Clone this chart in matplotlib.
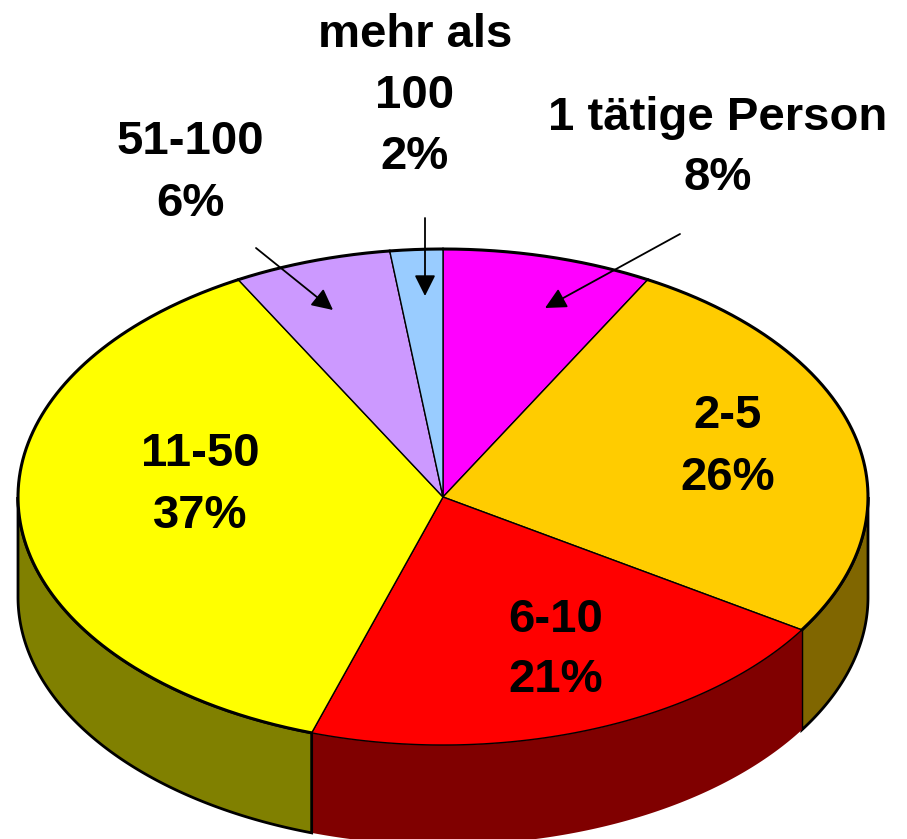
import numpy as np
import matplotlib.pyplot as plt
from matplotlib.patches import Polygon

plt.rcParams['font.family'] = ['Liberation Sans', 'DejaVu Sans']

labels = ['1 tätige Person', '2-5', '6-10', '11-50', '51-100', 'mehr als\n100']
shares = [8, 26, 21, 37, 6, 2]
top_colors = ['#FF00FF', '#FFCC00', '#FF0000', '#FFFF00', '#CC99FF', '#99CCFF']
side_colors = ['#800080', '#806600', '#800000', '#808000', '#664C80', '#4C6680']
outlined = [True, True, False, True, True, True]

# label placement (pixel coords of the reference), inside or with arrow
label_pos = [(718, 148), (728, 447), (556, 650), (200, 485), (190, 173), (415, 96)]
arrow_tip = [(545, 308), None, None, None, (333, 310), (425, 296)]
arrow_tail = [(680, 234), None, None, None, (256, 248), (425, 218)]

cx, cy = 443, 497
rx, ry = 425, 248
depth = 100


def ell(t):
    t = np.radians(t)
    return cx + rx * np.sin(t), cy - ry * np.cos(t)


fig = plt.figure(figsize=(9.07, 8.39), dpi=100)
ax = fig.add_axes([0, 0, 1, 1])
ax.set_xlim(0, 907)
ax.set_ylim(839, 0)
ax.axis('off')

bounds = np.concatenate([[0], np.cumsum(shares)]) * 3.6

# side walls (front half only)
for i in range(len(shares)):
    a0, a1 = max(bounds[i], 90), min(bounds[i + 1], 270)
    if a1 <= a0:
        continue
    t = np.linspace(a0, a1, 200)
    x, y = ell(t)
    pts = np.column_stack([np.concatenate([x, x[::-1]]),
                           np.concatenate([y, y[::-1] + depth])])
    ax.add_patch(Polygon(pts, closed=True, facecolor=side_colors[i],
                         edgecolor='black' if outlined[i] else 'none',
                         lw=2 if outlined[i] else 0, zorder=1))

# top faces
for i in range(len(shares)):
    t = np.linspace(bounds[i], bounds[i + 1], 300)
    x, y = ell(t)
    pts = np.column_stack([np.concatenate([[cx], x]), np.concatenate([[cy], y])])
    ax.add_patch(Polygon(pts, closed=True, facecolor=top_colors[i],
                         edgecolor='black', lw=1.0, zorder=2))
    if outlined[i]:
        ax.plot(x, y, color='black', lw=2.2, zorder=3, solid_capstyle='round')

for i, lab in enumerate(labels):
    txt = f'{lab}\n{shares[i]}%'
    ax.text(label_pos[i][0], label_pos[i][1], txt, ha='center', va='center',
            fontsize=34, fontweight='bold', color='black', linespacing=1.5,
            zorder=5)
    if arrow_tip[i] is not None:
        ax.annotate('', xy=arrow_tip[i], xytext=arrow_tail[i],
                    arrowprops=dict(arrowstyle='-|>', color='black', lw=1.3,
                                    mutation_scale=32, shrinkA=0, shrinkB=0),
                    zorder=6)

fig.savefig('out.png', dpi=100)
